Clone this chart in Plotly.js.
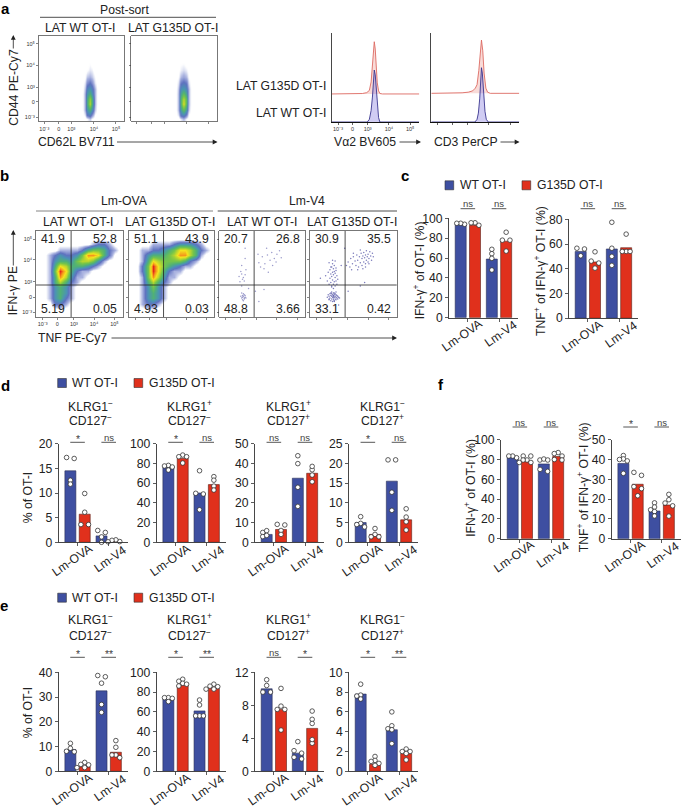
<!DOCTYPE html>
<html><head><meta charset="utf-8">
<script src="https://cdn.plot.ly/plotly-3.0.1.min.js"></script>
<style>html,body{margin:0;padding:0;background:#fff}#g{width:681px;height:808px}</style>
</head><body><div id="g"></div>
<script>
// ---------- data ----------
const groups = ['Lm-OVA','Lm-V4'];
// bar heights [Lm-OVA, Lm-V4] and replicate values
const c1Wt=[94,59], c1Gd=[93,77];
const c1WtDots=[[94,95,95],[68.8,64.4,59.7,48]], c1GdDots=[[93,95.5,95.5],[86,78,78,67]];
const c2Wt=[54,56], c2Gd=[45.5,57];
const c2WtDots=[[56.6,56,50.5],[77.6,56.6,50,42.7]], c2GdDots=[[53.7,46.2,44.6,40.5],[68,54,54,54]];
const d1Wt=[14.5,1.3], d1Gd=[5.7,0.3];
const d1WtDots=[[17,17.2,12.6,11.8],[2,2.4,0,1.1]], d1GdDots=[[9.9,6.1,3.6,3.6],[0.15,0.5,0.4,0.1]];
const d2Wt=[76,50], d2Gd=[85,58.5];
const d2WtDots=[[78,77.4,76.4,73.3],[72.6,49.7,49,33]], d2GdDots=[[88.5,86.8,86.8,80.4],[66.6,63,57,53]];
const d3Wt=[4,32.5], d3Gd=[6.5,35];
const d3WtDots=[[5,5.9,2.9,3.5],[43.9,39.9,27.9,18.2]], d3GdDots=[[8.8,9.1,6,4],[36.8,38.5,34.1,30.7]];
const d4Wt=[5,15.5], d4Gd=[2,5.7];
const d4WtDots=[[6.5,4.8,4.5,3.9],[20.9,20.9,12.7,8.1]], d4GdDots=[[3.5,2,1.4,1.4],[8.5,6.4,5.2,3.1]];
const e1Wt=[8.8,32.5], e1Gd=[1.8,7.7];
const e1WtDots=[[11.3,9.3,7.9,8.1],[38.7,38.2,35.6,27,23.8]], e1GdDots=[[3.6,2.8,1.5,2.6,1.5],[12.4,9.7,6.6,6.6,5.5]];
const e2Wt=[73,61], e2Gd=[87,85];
const e2WtDots=[[74.4,74.4,73.7,70.4],[72,67,56,56,56]], e2GdDots=[[93,91,88.9,88,86.2],[88,86,85.5,83,83]];
const e3Wt=[10,2.2], e3Gd=[7.5,5.2];
const e3WtDots=[[11.1,10.4,9.6,9.6],[3.6,2.5,2.2,1.5,1.7]], e3GdDots=[[10.05,7.9,7.5,7.5,5],[7.3,6.3,5.8,3.4,3.85]];
const e4Wt=[7.8,4.2], e4Gd=[0.7,1.8];
const e4WtDots=[[8.8,7.7,7.6,7.3],[6,4.6,4.3,4.2,2.8]], e4GdDots=[[1.5,1.1,1,0.8,0.6],[2.25,2,2,1.8,1.15]];
const f1Wt=[82,75.5], f1Gd=[78,83];
const f1WtDots=[[81.8,83.5,83.5],[79.5,80.5,79.5,70,68]], f1GdDots=[[83.5,83.5,79.5,79.5,77,77],[87,86,83.5,79.5,80]];
const f2Wt=[38,14], f2Gd=[27.5,17];
const f2WtDots=[[42,40.3,40,39.3,33],[18.1,14.6,16,13.7,11.5]], f2GdDots=[[33.5,32,26.3,25.3,21.7],[22.4,18,19.7,16.6,11.4]];

// histograms: position on the biexponential axis (0-100 of axis) and count height
const h1BlueX=[0,40.6,43,45,46.5,47.5,48.6,49.7,51,52,53.5,55,100];
const h1BlueY=[0,0,3,13,28,48,58.4,53,35,16,5,0,0];
const h1RedX=[0,25,35,40,43,45,46.5,47.5,48.6,49.7,51,52,53.5,55,58,100];
const h1RedY=[31.5,31.5,32,33,35.5,45,63,84,90.2,82,62,44,35,32,31.5,31.5];
const h2BlueX=[0,49.6,52,53.5,55,56,57,58,59.5,61,62.5,64.8,100];
const h2BlueY=[0,0,3,10,26,48,61,55,32,12,3,0,0];
const h2RedX=[0,20,35,42,47,50,52,54,55.5,57,58.5,60,62,64,67,100];
const h2RedY=[32.2,32.2,32.8,33.5,35,38,42,58,80,92.1,80,55,38,33.5,32.2,32.2];

// flow density, reading colour level 0-9 off the picture; rows from top to bottom
const a1GridX=[51,54,57,60,63,66,69];
const aGridY=[80,70,60,52,45,38,32,26,20,14,8,3];
const a1Density=[
[0,0,0,0,0,0,0],[0,0,0,.2,0,0,0],[0,0,.2,.5,.4,0,0],[0,.2,.8,1,.8,.3,0],
[0,.5,1.5,2,1.5,.5,0],[0,.8,2.5,3,2.5,1,0],[0,1,3,4,3,1,0],[0,1,3.5,5.5,4,1,0],
[0,1,3.5,6,4,1,0],[0,1,3,4,3,.8,0],[0,.5,2,2.5,1.5,.3,0],[0,0,.3,.8,.3,0,0]];
const a2GridX=[52,55,58,61,64,67,70];
const a2Density=[
[0,0,0,0,0,0,0],[0,0,.2,.2,0,0,0],[0,.1,.4,.6,.4,0,0],[0,.3,.9,1.2,.9,.3,0],
[0,.6,1.8,2.2,1.8,.6,0],[0,.9,2.8,3.2,2.6,1,0],[0,1,3.4,4.6,3.4,1,0],[0,1,4,6,4.4,1,0],
[0,1,3.8,6.6,4.2,1,0],[0,1,3.2,4.6,3.2,.8,0],[0,.6,2.2,2.8,1.6,.3,0],[0,0,.5,1,.3,0,0]];
const bGridAxis=[3.1,9.4,15.6,21.9,28.1,34.4,40.6,46.9,53.1,59.4,65.6,71.9,78.1,84.4,90.6,96.9];
const b1Density=[
[0,0,0,0,0,0,0,0,0,0,0,0,0,0,0,0],[0,0,0,0,0,0,0,0,0,0,0,0,0,0,0,0],
[0,0,0,0,0,0,0,0,0,0,1,2,2,1,0,0],[0,0,0,0,1,1,1,1,2,4,5,5,4,2,1,0],
[0,0,1,2,3,2,2,3,5,8,8,7,4,2,0,0],[0,0,1,3,4,4,3,5,6,6,5,3,1,0,0,0],
[0,0,1,4,7,6,4,4,4,3,2,1,0,0,0,0],[0,0,1,5,9,7,4,2,1,1,0,0,0,0,0,0],
[0,0,1,4,8,6,3,1,1,0,0,0,0,0,0,0],[0,0,1,4,6,4,2,1,0,0,0,0,0,0,0,0],
[0,0,1,3,4,3,1,0,0,0,0,0,0,0,0,0],[0,0,1,3,4,3,1,0,0,0,0,0,0,0,0,0],
[0,0,1,3,4,2,1,0,0,0,0,0,0,0,0,0],[0,0,0,2,2,1,0,0,0,0,0,0,0,0,0,0],
[0,0,0,0,.5,0,0,0,0,0,0,0,0,0,0,0],[0,0,0,0,0,0,0,0,0,0,0,0,0,0,0,0]];
const b2Density=[
[0,0,0,0,0,0,0,0,0,0,0,0,0,0,0,0],[0,0,0,0,0,0,0,0,0,0,0,0,0,0,0,0],
[0,0,0,0,1,1,1,1,2,3,3,3,2,1,0,0],[0,0,1,1,2,2,3,4,5,7,7,6,4,2,1,0],
[0,0,1,3,4,4,4,5,6,8,8,6,4,1,0,0],[0,0,1,4,7,6,5,5,5,5,4,2,1,0,0,0],
[0,0,2,5,9,7,5,4,3,2,1,1,0,0,0,0],[0,0,2,5,9,7,4,2,1,1,0,0,0,0,0,0],
[0,0,1,5,8,6,3,1,1,0,0,0,0,0,0,0],[0,0,1,4,6,4,2,1,0,0,0,0,0,0,0,0],
[0,0,1,3,5,3,1,0,0,0,0,0,0,0,0,0],[0,0,1,3,4,3,1,0,0,0,0,0,0,0,0,0],
[0,0,1,3,4,3,1,0,0,0,0,0,0,0,0,0],[0,0,1,2,2,1,0,0,0,0,0,0,0,0,0,0],
[0,0,0,.5,.5,0,0,0,0,0,0,0,0,0,0,0],[0,0,0,0,0,0,0,0,0,0,0,0,0,0,0,0]];
// sparse events of the Lm-V4 plots
const b3EventsX=[26,27,28,29,28,25,30,27,29,31,26,28,30,27,29,23,26,28,25,30,27,29,24,31,26,30,34,26,46,50,53,56,59,61,64,67,70,48,52,57,62,66,55,45,72,42,52,46,30];
const b3EventsY=[22,25,24,21,27,24,23,20,26,22,28,19,25,23,22,47,50,46,53,49,44,42,41,55,60,68,33,36,63,70,62,72,66,75,68,73,77,58,56,52,60,64,80,73,69,30,32,18,80];
const b4EventsX=[20,21,22,22,23,23,24,24,24,25,25,25,26,26,26,27,27,27,27,28,28,28,28,29,29,29,30,30,30,31,31,32,32,33,34,25,28,22,30,27,
18,20,21,22,23,23,24,24,25,25,25,26,26,26,27,27,27,28,28,28,29,29,29,30,30,31,31,32,22,26,29,25,27,24,30,
42,44,46,47,49,50,52,53,54,55,56,57,58,59,60,60,61,62,62,63,64,64,65,65,66,67,67,68,69,70,71,72,73,58,55,50,48,61,64,68,
58,63,33,20,36,12,40,44];
const b4EventsY=[23,26,20,24,22,27,19,25,28,21,24,27,18,23,26,20,22,25,28,19,23,26,28,21,24,27,20,23,26,22,25,21,24,23,22,29,18,21,29,24,
48,42,52,38,45,55,40,50,36,47,58,43,52,62,38,49,56,41,53,60,36,46,51,42,57,48,38,44,63,66,65,35,33,58,54,
60,64,58,68,62,70,65,60,72,66,58,70,63,74,60,68,71,64,75,69,62,72,66,77,70,64,73,68,76,71,66,74,70,78,55,74,55,56,58,62,
36,40,14,12,60,45,80,30];
const flowTicksX=[7.7,24.6,43.8,66.9,90.4], flowTicksY=[5.4,22.9,41.1,66.3,90.7];
const flowTickText=['10⁻³','0','10³','10⁴','10⁵'];
const quadrantB=[['41.9','52.8','5.19','0.05'],['51.1','43.9','4.93','0.03'],['20.7','26.8','48.8','3.66'],['30.9','35.5','33.1','0.42']];

// ---------- helpers ----------
const W=681,H=808,FS=12.2;
const layout={width:W,height:H,margin:{l:0,r:0,t:0,b:0},paper_bgcolor:'#fff',plot_bgcolor:'rgba(0,0,0,0)',showlegend:false,
  barmode:'group',bargap:0.08,bargroupgap:0.233,font:{family:'"Liberation Sans",Arial,sans-serif',color:'#222',size:FS},
  annotations:[],shapes:[]};
const data=[];
let axN=0;
const px=v=>v/W, py=v=>1-v/H;
function T(text,x,y,o={}){layout.annotations.push(Object.assign({text,xref:'paper',yref:'paper',x:px(x),y:py(y),xanchor:'center',yanchor:'middle',showarrow:false,
  font:{size:o.size||FS,color:o.color||'#222',family:'"Liberation Sans",Arial,sans-serif'}},o.extra||{}));}
function L(x0,y0,x1,y1,color='#222',w=0.8){layout.shapes.push({type:'line',xref:'paper',yref:'paper',x0:px(x0),y0:py(y0),x1:px(x1),y1:py(y1),line:{color,width:w}});}
function R(x0,y0,x1,y1,fill){layout.shapes.push({type:'rect',xref:'paper',yref:'paper',x0:px(x0),y0:py(y0),x1:px(x1),y1:py(y1),fillcolor:fill,line:{color:'#333',width:0.6}});}
function Arrow(x0,y0,x1,y1){layout.annotations.push({text:'',xref:'paper',yref:'paper',x:px(x1),y:py(y1),axref:'pixel',ayref:'pixel',ax:x0-x1,ay:y0-y1,showarrow:true,arrowhead:2,arrowsize:1.2,arrowwidth:0.8,arrowcolor:'#222'});}
function axes(l,t,r,b,xo,yo){axN++;const s=axN===1?'':axN;
  layout['xaxis'+s]=Object.assign({domain:[px(l),px(r)],anchor:'y'+s,fixedrange:true,zeroline:false,showgrid:false},xo);
  layout['yaxis'+s]=Object.assign({domain:[py(b),py(t)],anchor:'x'+s,fixedrange:true,zeroline:false,showgrid:false},yo);
  return {x:'x'+s,y:'y'+s};}

const BLUE='#3e4fa1',RED='#e0301c';
const UNIT=31.15, DODGE=0.23;
function swarm(vals,pxPerUnit){ // lay replicate dots out side by side when they would overlap
  const idx=vals.map((v,i)=>i).sort((a,b)=>vals[b]-vals[a]);
  const off=vals.map(()=>0);let i=0;
  while(i<idx.length){let j=i;
    while(j+1<idx.length&&(vals[idx[j]]-vals[idx[j+1]])*pxPerUnit<3.2)j++;
    const n=j-i+1;
    if(n===2){off[idx[i]]=-3.8;off[idx[j]]=3.8;}
    else if(n>2){const placed=[];
      for(let k=i;k<=j;k++){const yy=vals[idx[k]]*pxPerUnit;
        for(const c of [0,-1,1,-2,2]){const xx=c*3.9;
          if(placed.every(p=>Math.hypot(p[0]-xx,p[1]-yy)>=3.8)){off[idx[k]]=xx;placed.push([xx,yy]);break;}}}}
    i=j+1;}
  return off;}
function barPanel(left,top,bottom,ymax,dtick,wt,gd,wtDots,gdDots){
  const a=axes(left,top,left+69,bottom,
   {range:[-0.605,1.61],tickmode:'array',tickvals:[0,1],showticklabels:false,ticks:'outside',ticklen:3,tickwidth:0.8,tickcolor:'#333',showline:true,linecolor:'#333',linewidth:0.9},
   {range:[0,ymax],tick0:0,dtick,ticks:'outside',ticklen:3,tickwidth:0.8,tickcolor:'#333',showline:true,linecolor:'#333',linewidth:0.9,tickfont:{size:FS,color:'#222'}});
  data.push({type:'bar',x:[0,1],y:wt,name:'WT OT-I',xaxis:a.x,yaxis:a.y,marker:{color:BLUE,line:{color:'#2a2f55',width:0.6}}});
  data.push({type:'bar',x:[0,1],y:gd,name:'G135D OT-I',xaxis:a.x,yaxis:a.y,marker:{color:RED,line:{color:'#5a2018',width:0.6}}});
  const ppu=(bottom-top)/ymax,xs=[],ys=[];
  [[wtDots,-DODGE],[gdDots,DODGE]].forEach(([dots,d])=>dots.forEach((vals,g)=>{
    const off=swarm(vals,ppu);
    vals.forEach((v,i)=>{xs.push(g+d+off[i]/UNIT);ys.push(v);});}));
  data.push({type:'scatter',mode:'markers',x:xs,y:ys,xaxis:a.x,yaxis:a.y,cliponaxis:false,hoverinfo:'y',
    marker:{color:'#fff',size:4.6,line:{color:'#333',width:0.8}}});
  // slanted category labels sit across the tick, centred near it
  groups.forEach((g,i)=>layout.annotations.push({text:g,xref:a.x,yref:'paper',x:i,y:py(bottom+(i?16.5:17.5)),xshift:i?1.5:-5,xanchor:'center',yanchor:'middle',textangle:-35,showarrow:false,
    font:{size:FS,color:'#222',family:'"Liberation Sans",Arial,sans-serif'}}));
  return a;}
function sig(left,lineY,labels){
  const c=[18.85,50];
  labels.forEach((s,i)=>{const x0=left+c[i]-7.3,x1=left+c[i]+7.3;L(x0,lineY,x1,lineY,'#444',0.9);
    T(s,left+c[i],lineY-(s==='ns'?5:3.5),{size:s==='ns'?9.5:10.5,color:'#444'});});}
function flowAxes(l,t,r,b,labelled,xt,yt){
  return axes(l,t,r,b,
   {range:[0,100],mirror:true,showline:true,linecolor:'#555',linewidth:0.8,ticks:'outside',ticklen:2,tickwidth:0.6,tickcolor:'#333',tickmode:'array',tickvals:xt,ticktext:flowTickText,showticklabels:labelled,tickfont:{size:5.5,color:'#333'}},
   {range:[0,100],mirror:true,showline:true,linecolor:'#555',linewidth:0.8,ticks:'outside',ticklen:2,tickwidth:0.6,tickcolor:'#333',tickmode:'array',tickvals:yt,ticktext:flowTickText,showticklabels:labelled,tickfont:{size:5.5,color:'#333'}});}
const flowScale=[[0,'#ffffff'],[0.03,'#ffffff'],[0.07,'#d6dbf0'],[0.11,'#aab3e0'],[0.22,'#5f72c0'],[0.33,'#4b93b4'],[0.44,'#4fb078'],[0.56,'#74c44a'],[0.67,'#b8d62f'],[0.78,'#f5e31e'],[0.89,'#f5951c'],[1,'#e4261a']];
function density(a,x,y,z){data.push({type:'heatmap',x,y,z,xaxis:a.x,yaxis:a.y,zmin:0,zmax:9,zsmooth:'best',colorscale:flowScale,showscale:false,hoverinfo:'skip'});}

// ---------- panel a ----------
T('<b>a</b>',5,8,{size:15,color:'#000'});
T('Post-sort',124,10);L(40,17.3,216,17.3,'#222',0.8);
T('LAT WT OT-I',80,28.5);T('LAT G135D OT-I',173.3,28.5);
const a1=flowAxes(38.7,36,123.7,121.3,true,[6.6,23.5,38.4,65,90.9],[4.7,23,40.1,65.8,90.9]);
density(a1,a1GridX,aGridY,a1Density);
const a2=flowAxes(131.3,36,216.7,121.3,false,[6.6,23.5,38.4,65,90.9],[4.7,23,40.1,65.8,90.9]);
density(a2,a2GridX,aGridY,a2Density);
T('CD44 PE-Cy7',13.3,87.5,{extra:{textangle:-90}});Arrow(13.3,50,13.3,35);
T('CD62L BV711',76.3,142);Arrow(115.5,142,217.5,142);
function histAxes(l,r,labelled){
  return axes(l,33,r,122,
   {range:[0,100],showline:true,linecolor:'#111',linewidth:1,ticks:'outside',ticklen:1.5,tickwidth:0.7,tickcolor:'#222',tickmode:'array',tickvals:[7.2,23.9,41,65.3,89.6],ticktext:flowTickText,showticklabels:labelled,tickfont:{size:5.5,color:'#333'}},
   {range:[0,100],showline:true,linecolor:'#333',linewidth:0.9,ticks:'',showticklabels:false});}
function hist(a,x,y,line,fill){data.push({type:'scatter',mode:'lines',x,y,xaxis:a.x,yaxis:a.y,line:{color:line,width:0.9},fill:'toself',fillcolor:fill,hoverinfo:'skip'});}
const h1=histAxes(331.7,419.3,true);
hist(h1,h1RedX,h1RedY,'#dc6a62','rgba(232,110,100,0.25)');hist(h1,h1BlueX,h1BlueY,'#3a3690','rgba(120,110,220,0.35)');
const h2=histAxes(431.3,519.3,false);
hist(h2,h2RedX,h2RedY,'#dc6a62','rgba(232,110,100,0.25)');hist(h2,h2BlueX,h2BlueY,'#3a3690','rgba(120,110,220,0.35)');
T('LAT G135D OT-I',328,86,{extra:{xanchor:'right'}});T('LAT WT OT-I',328,112.7,{extra:{xanchor:'right'}});
T('Vα2 BV605',365.5,142);Arrow(398,142,421,142);
T('CD3 PerCP',465.7,142);Arrow(499,142,519.5,142);

// ---------- panel b ----------
T('<b>b</b>',4,176,{size:15,color:'#000'});
T('Lm-OVA',124,201);L(36,211,213,211,'#777',0.9);
T('Lm-V4',306.7,201);L(217.7,211,397,211,'#222',0.8);
[[36,122.7,78.3,'LAT WT OT-I'],[129,214.3,170,'LAT G135D OT-I'],[219.3,305.3,261.7,'LAT WT OT-I'],[310,396.7,351.7,'LAT G135D OT-I']].forEach((p,i)=>{
  T(p[3],p[2],222);
  const a=flowAxes(p[0],231,p[1],317,i===0,flowTicksX,flowTicksY);
  if(i===0)density(a,bGridAxis,bGridAxis.slice().reverse(),b1Density);
  if(i===1)density(a,bGridAxis,bGridAxis.slice().reverse(),b2Density);
  if(i===2)data.push({type:'scatter',mode:'markers',x:b3EventsX,y:b3EventsY,xaxis:a.x,yaxis:a.y,marker:{color:'rgba(90,90,170,0.6)',size:1.5},hoverinfo:'skip'});
  if(i===3)data.push({type:'scatter',mode:'markers',x:b4EventsX,y:b4EventsY,xaxis:a.x,yaxis:a.y,marker:{color:'rgba(70,70,160,0.7)',size:1.5},hoverinfo:'skip'});
  const gx=p[0]+(p[1]-p[0])*0.405,gy=317-86*0.372;
  L(gx,231,gx,317,'#222',0.8);L(p[0],gy,p[1],gy,'#222',0.8);
  const q=quadrantB[i];
  T(q[0],p[0]+3,238.7,{extra:{xanchor:'left'}});T(q[1],p[1]-3.5,238.7,{extra:{xanchor:'right'}});
  T(q[2],p[0]+3,309.3,{extra:{xanchor:'left'}});T(q[3],p[1]-3.5,309.3,{extra:{xanchor:'right'}});
});
T('IFN-γ PE',13.3,291,{extra:{textangle:-90}});Arrow(13.3,267,13.3,230);
T('TNF PE-Cy7',72,338);Arrow(110,338,397,338);

// ---------- panel c ----------
T('<b>c</b>',405,176,{size:15,color:'#000'});
function legend(yc,x1,x2){R(x1,yc-4.5,x1+8.7,yc+4.5,BLUE);T('WT OT-I',x1+12.5,yc,{extra:{xanchor:'left'}});
  R(x2,yc-4.5,x2+8.7,yc+4.5,RED);T('G135D OT-I',x2+12.7,yc,{extra:{xanchor:'left'}});}
legend(185.3,445,522);
barPanel(449,218.3,317.7,100,20,c1Wt,c1Gd,c1WtDots,c1GdDots);sig(449,208.7,['ns','ns']);
barPanel(569,219.3,318.2,80,20,c2Wt,c2Gd,c2WtDots,c2GdDots);sig(569,208.7,['ns','ns']);
T('IFN-γ<sup>+</sup> of OT-I (%)',419.3,270,{extra:{textangle:-90}});
T('TNF<sup>+</sup> of IFN-γ<sup>+</sup> OT-I (%)',539.3,270.7,{extra:{textangle:-90}});

// ---------- panels d, e ----------
const colX=[58.7,156.7,255,349],colC=[90,189,288,382.7];
const topLab=['KLRG1<sup>−</sup>','KLRG1<sup>+</sup>','KLRG1<sup>+</sup>','KLRG1<sup>−</sup>'];
const botLab=['CD127<sup>−</sup>','CD127<sup>−</sup>','CD127<sup>+</sup>','CD127<sup>+</sup>'];
T('<b>d</b>',5,385,{size:15,color:'#000'});legend(383,57.7,134);
T('% of OT-I',28.3,498,{extra:{textangle:-90}});
colC.forEach((c,i)=>{T(topLab[i],c,405.7);T(botLab[i],c,420.3);});
barPanel(colX[0],443.7,542.3,20,5,d1Wt,d1Gd,d1WtDots,d1GdDots);sig(colX[0],442.3,['*','ns']);
barPanel(colX[1],443.7,542.3,100,20,d2Wt,d2Gd,d2WtDots,d2GdDots);sig(colX[1],442.3,['*','ns']);
barPanel(colX[2],443.7,542.3,50,10,d3Wt,d3Gd,d3WtDots,d3GdDots);sig(colX[2],442.3,['ns','ns']);
barPanel(colX[3],443.7,542.3,25,5,d4Wt,d4Gd,d4WtDots,d4GdDots);sig(colX[3],442.3,['*','ns']);

T('<b>e</b>',4,605,{size:15,color:'#000'});legend(597.7,57.7,134);
T('% of OT-I',28.3,713,{extra:{textangle:-90}});
colC.forEach((c,i)=>{T(topLab[i],c,619.3);T(botLab[i],c,634.7);});
barPanel(colX[0],672.3,771.3,40,10,e1Wt,e1Gd,e1WtDots,e1GdDots);sig(colX[0],657.3,['*','**']);
barPanel(colX[1],672.3,771.3,100,20,e2Wt,e2Gd,e2WtDots,e2GdDots);sig(colX[1],657.3,['*','**']);
barPanel(colX[2],672.3,771.3,12,4,e3Wt,e3Gd,e3WtDots,e3GdDots);sig(colX[2],657.3,['ns','*']);
barPanel(colX[3],672.3,771.3,10,2,e4Wt,e4Gd,e4WtDots,e4GdDots);sig(colX[3],657.3,['*','**']);

// ---------- panel f ----------
T('<b>f</b>',440.7,384,{size:15,color:'#000'});
barPanel(501,439.7,538.7,100,20,f1Wt,f1Gd,f1WtDots,f1GdDots);sig(501,427,['ns','ns']);
barPanel(611.7,439.7,538.7,50,10,f2Wt,f2Gd,f2WtDots,f2GdDots);sig(611.7,427,['*','ns']);
T('IFN-γ<sup>+</sup> of OT-I (%)',469.3,487.5,{extra:{textangle:-90}});
T('TNF<sup>+</sup> of IFN-γ<sup>+</sup> OT-I (%)',582.7,487.5,{extra:{textangle:-90}});

Plotly.newPlot('g',data,layout,{displayModeBar:false,staticPlot:true});
</script></body></html>
